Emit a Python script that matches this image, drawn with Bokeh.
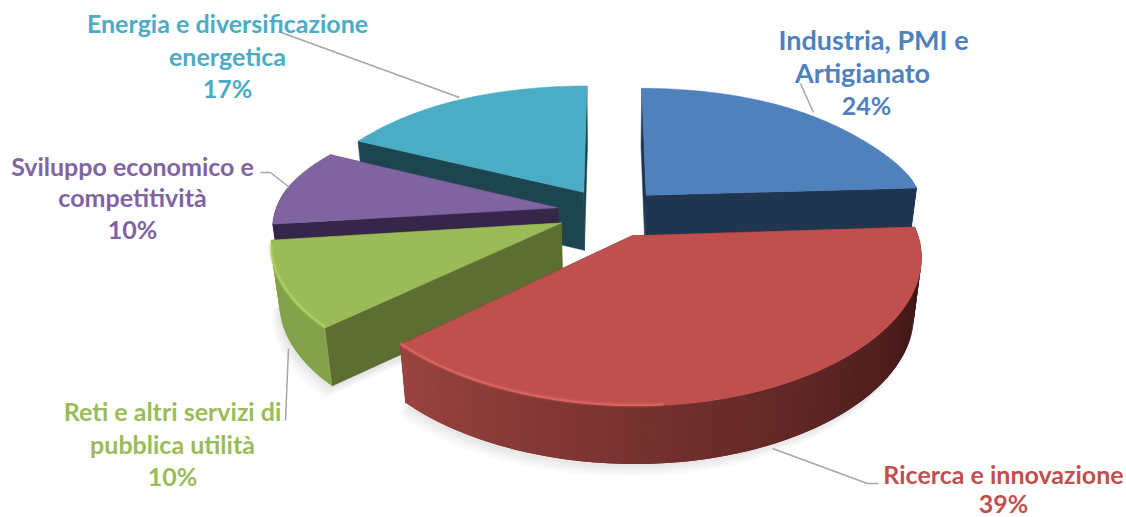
import math
from bokeh.plotting import figure
from bokeh.embed import file_html
from bokeh.resources import INLINE
from bokeh.core.properties import value

# ---- data ----
categories = ["Industria, PMI e Artigianato", "Ricerca e innovazione",
              "Reti e altri servizi di pubblica utilità",
              "Sviluppo economico e competitività",
              "Energia e diversificazione energetica"]
shares = [24, 39, 10, 10, 17]
top_colors = ["#4F81BD", "#C0504D", "#9BBB59", "#8064A2", "#4BACC6"]
wall_colors = ["#1F3550", "#6A2A28", "#5E6E33", "#35264A", "#1D4550"]
outer_left = ["#1F3550", "#9A433F", "#84A24A", "#35264A", "#1D4550"]
outer_right = ["#1F3550", "#421817", "#7F9C47", "#35264A", "#1D4550"]
draw_order = [4, 0, 3, 2, 1]

label_lines = [
    [("Industria, PMI e", 873, 39), ("Artigianato", 862, 72), ("24%", 866, 104)],
    [("Ricerca e innovazione", 1003, 473), ("39%", 1003, 502)],
    [("Reti e altri servizi di", 172, 410), ("pubblica utilità", 172, 443), ("10%", 172, 475)],
    [("Sviluppo economico e", 132, 165), ("competitività", 132, 196), ("10%", 132, 228)],
    [("Energia e diversificazione", 227, 22), ("energetica", 227, 55), ("17%", 227, 87)],
]
size_override = {"Industria, PMI e": "27px", "Artigianato": "27px"}
leaders = [
    ([800, 813], [83, 112]),
    ([772, 867, 878], [448, 483, 483]),
    ([288, 285], [348, 420]),
    ([289, 270, 260], [187, 172, 172]),
    ([278, 459], [31, 97]),
]

# ---- projection parameters ----
CX, CY = 610.0, 211.6
AX_RIGHT, AX_LEFT, BY = 279.0, 283.0, 131.0
PERSP_X = 0.14
PERSP_Y = 0.176
EXPLODE = 0.19
DEPTH = 58.0
SHRINK = 0.975


def project(X, Y, low=False):
    ax = AX_RIGHT if X >= 0 else AX_LEFT
    x = CX + ax * X / (1 + PERSP_X * Y)
    y = CY - BY * Y / (1 + PERSP_Y * Y) + 5 * math.exp(-((Y - 0.6) / 0.35) ** 2)
    if low:
        x = CX + (x - CX) * SHRINK
        y = y + DEPTH
    return x, y


def mix(a, b, t):
    ca = [int(a[i:i + 2], 16) for i in (1, 3, 5)]
    cb = [int(b[i:i + 2], 16) for i in (1, 3, 5)]
    return "#%02x%02x%02x" % tuple(round(u + (v - u) * t) for u, v in zip(ca, cb))


p = figure(width=1126, height=517, x_range=(0, 1126), y_range=(517, 0),
           output_backend="svg", toolbar_location=None, min_border=0)
p.xaxis.visible = False
p.yaxis.visible = False
p.grid.visible = False
p.outline_line_color = None

total = sum(shares)
starts = []
acc = 0
for s in shares:
    starts.append(acc / total * 2 * math.pi)
    acc += s
ends = starts[1:] + [2 * math.pi]


def slice_geom(i):
    a0, a1 = starts[i], ends[i]
    m = (a0 + a1) / 2
    ox, oy = EXPLODE * math.sin(m), EXPLODE * math.cos(m)
    n = max(8, int((a1 - a0) * 60))
    thetas = [a0 + (a1 - a0) * k / n for k in range(n + 1)]
    rim = [(ox + math.sin(t), oy + math.cos(t)) for t in thetas]
    return (ox, oy), thetas, rim


# soft shadows under the front slices
for i in (2, 1):
    (ox, oy), thetas, rim = slice_geom(i)
    pts = [project(X, Y, True) for X, Y in rim]
    for off, gx in ((3, -3), (6, -6), (9, -9), (12, -12)):
        xs = [q[0] + gx * 0.6 for q in pts] + [CX]
        ys = [q[1] + off for q in pts] + [CY + 60]
        p.patch(xs, ys, fill_color="#808080", fill_alpha=0.05, line_color=None)

for i in draw_order:
    (ox, oy), thetas, rim = slice_geom(i)
    # radial walls
    for X, Y in (rim[0], rim[-1]):
        a = project(ox, oy)
        b = project(X, Y)
        c = project(X, Y, True)
        d = project(ox, oy, True)
        p.patch([a[0], b[0], c[0], d[0]], [a[1], b[1], c[1], d[1]],
                fill_color=wall_colors[i], line_color=wall_colors[i], line_width=0.5)
    # outer wall, strip by strip (each overlaps the next), shaded along the arc
    lo_t, hi_t = math.radians(110), math.radians(226.8)
    for k in range(len(rim) - 1):
        t = (thetas[k] + thetas[k + 1]) / 2
        if math.cos(t) > 0.2:
            continue
        f = min(1, max(0, (t - lo_t) / (hi_t - lo_t)))
        col = mix(outer_right[i], outer_left[i], f)
        k2 = min(k + 2, len(rim) - 1)
        a = project(*rim[k])
        b = project(*rim[k2])
        c = project(*rim[k2], True)
        d = project(*rim[k], True)
        p.patch([a[0], b[0], c[0], d[0]], [a[1], b[1], c[1], d[1]],
                fill_color=col, line_color=None)
    # top face
    pts = [project(ox, oy)] + [project(X, Y) for X, Y in rim]
    p.patch([q[0] for q in pts], [q[1] for q in pts],
            fill_color=top_colors[i], line_color=top_colors[i], line_width=0.5)

# rim highlights
for i, col, lw in ((1, "#E06C68", 2.0), (2, "#B4D467", 2.5)):
    (ox, oy), thetas, rim = slice_geom(i)
    xs, ys = [], []
    for t, (X, Y) in zip(thetas, rim):
        if math.cos(t) < -0.15 and (i != 1 or t > math.radians(175)):
            q = project(X, Y)
            xs.append(q[0])
            ys.append(q[1] - 1)
    p.line(xs, ys, line_color=col, line_width=lw + 3, line_alpha=0.2)
    p.line(xs, ys, line_color=col, line_width=lw, line_alpha=0.7)

# leader lines
for xs, ys in leaders:
    p.line(xs, ys, line_color="#A6A6A6", line_width=1.5)

# labels
for i, lines in enumerate(label_lines):
    for txt, x, y in lines:
        p.text([x], [y], text=[txt], text_color=top_colors[i], text_align="center",
               text_baseline="middle", text_font=value("Lato"),
               text_font_size=size_override.get(txt, "25px"), text_font_style="bold")

open("out.html", "w").write(file_html(p, INLINE))
